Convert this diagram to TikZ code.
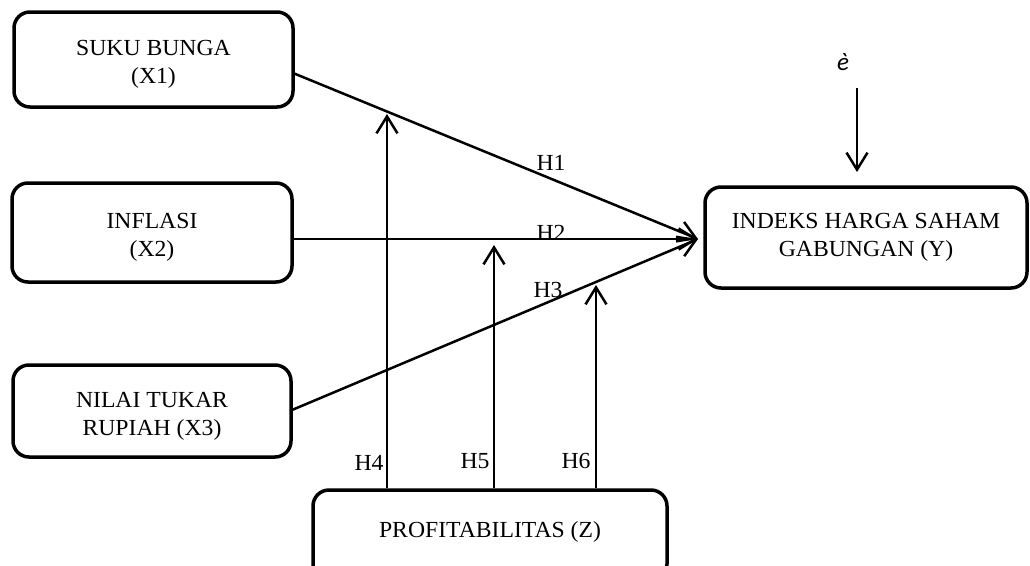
\documentclass[tikz,border=0pt]{standalone}
\usepackage{fontspec}
\setmainfont{Liberation Serif}[FakeStretch=1.03]
\newfontfamily\errfont{Carlito}
\newcommand\topstrut{\rule{0pt}{25pt}}
\usetikzlibrary{arrows.meta,calc}
\begin{document}
\begin{tikzpicture}[x=1pt,y=-1pt,
  box/.style={draw,line width=3.5pt,rounded corners=16pt,align=center,inner sep=0pt,font=\fontsize{23}{28}\selectfont},
  conn/.style={line width=2.5pt,-{Straight Barb[length=17pt,width=21pt]}},
  lbl/.style={font=\fontsize{23}{28}\selectfont,inner sep=0pt}]
\useasboundingbox (0,0) rectangle (1030,565);
\node[box,minimum width=279pt,minimum height=95pt] (X1) at (153.5,59.5) {\topstrut SUKU BUNGA\\(X1)};
\node[box,minimum width=280pt,minimum height=99pt] (X2) at (152,232.5) {\topstrut INFLASI\\(X2)};
\node[box,minimum width=278pt,minimum height=92pt] (X3) at (152,411) {\topstrut NILAI TUKAR\\RUPIAH (X3)};
\node[box,minimum width=322pt,minimum height=101pt] (Y) at (866,237.5) {INDEKS HARGA SAHAM\\GABUNGAN (Y)};
\node[box,minimum width=354pt,minimum height=90pt,text height=16pt,text depth=12pt] (Z) at (490,535) {PROFITABILITAS (Z)};
% main paths
\coordinate (c) at (698,239);
\coordinate (s1) at (293,73);
\coordinate (s2) at (292,239);
\coordinate (s3) at (292,410);
\draw[conn] (s1) -- (c);
\draw[conn] (s2) -- (c);
\draw[conn] (s3) -- (c);
% moderation arrows
\coordinate (t4) at (387,114);
\coordinate (t5) at (494,245);
\coordinate (t6) at (596,285);
\draw[conn] (Z.north -| t4) -- (t4);
\draw[conn] (Z.north -| t5) -- (t5);
\draw[conn] (Z.north -| t6) -- (t6);
% error term
\node[font=\errfont\itshape\fontsize{25}{28}\selectfont,inner sep=0pt] (e) at (843,62) {è};
\coordinate (ea) at (857,88);
\coordinate (et) at (857,172);
\draw[conn] (ea) -- (et);
% labels
\node[lbl] (H1) at (551,163) {H1};
\node[lbl] (H2) at (551,233) {H2};
\node[lbl] (H3) at (548,290) {H3};
\node[lbl] (H4) at (369,463) {H4};
\node[lbl] (H5) at (475,461) {H5};
\node[lbl] (H6) at (576,461) {H6};
\end{tikzpicture}
\end{document}
